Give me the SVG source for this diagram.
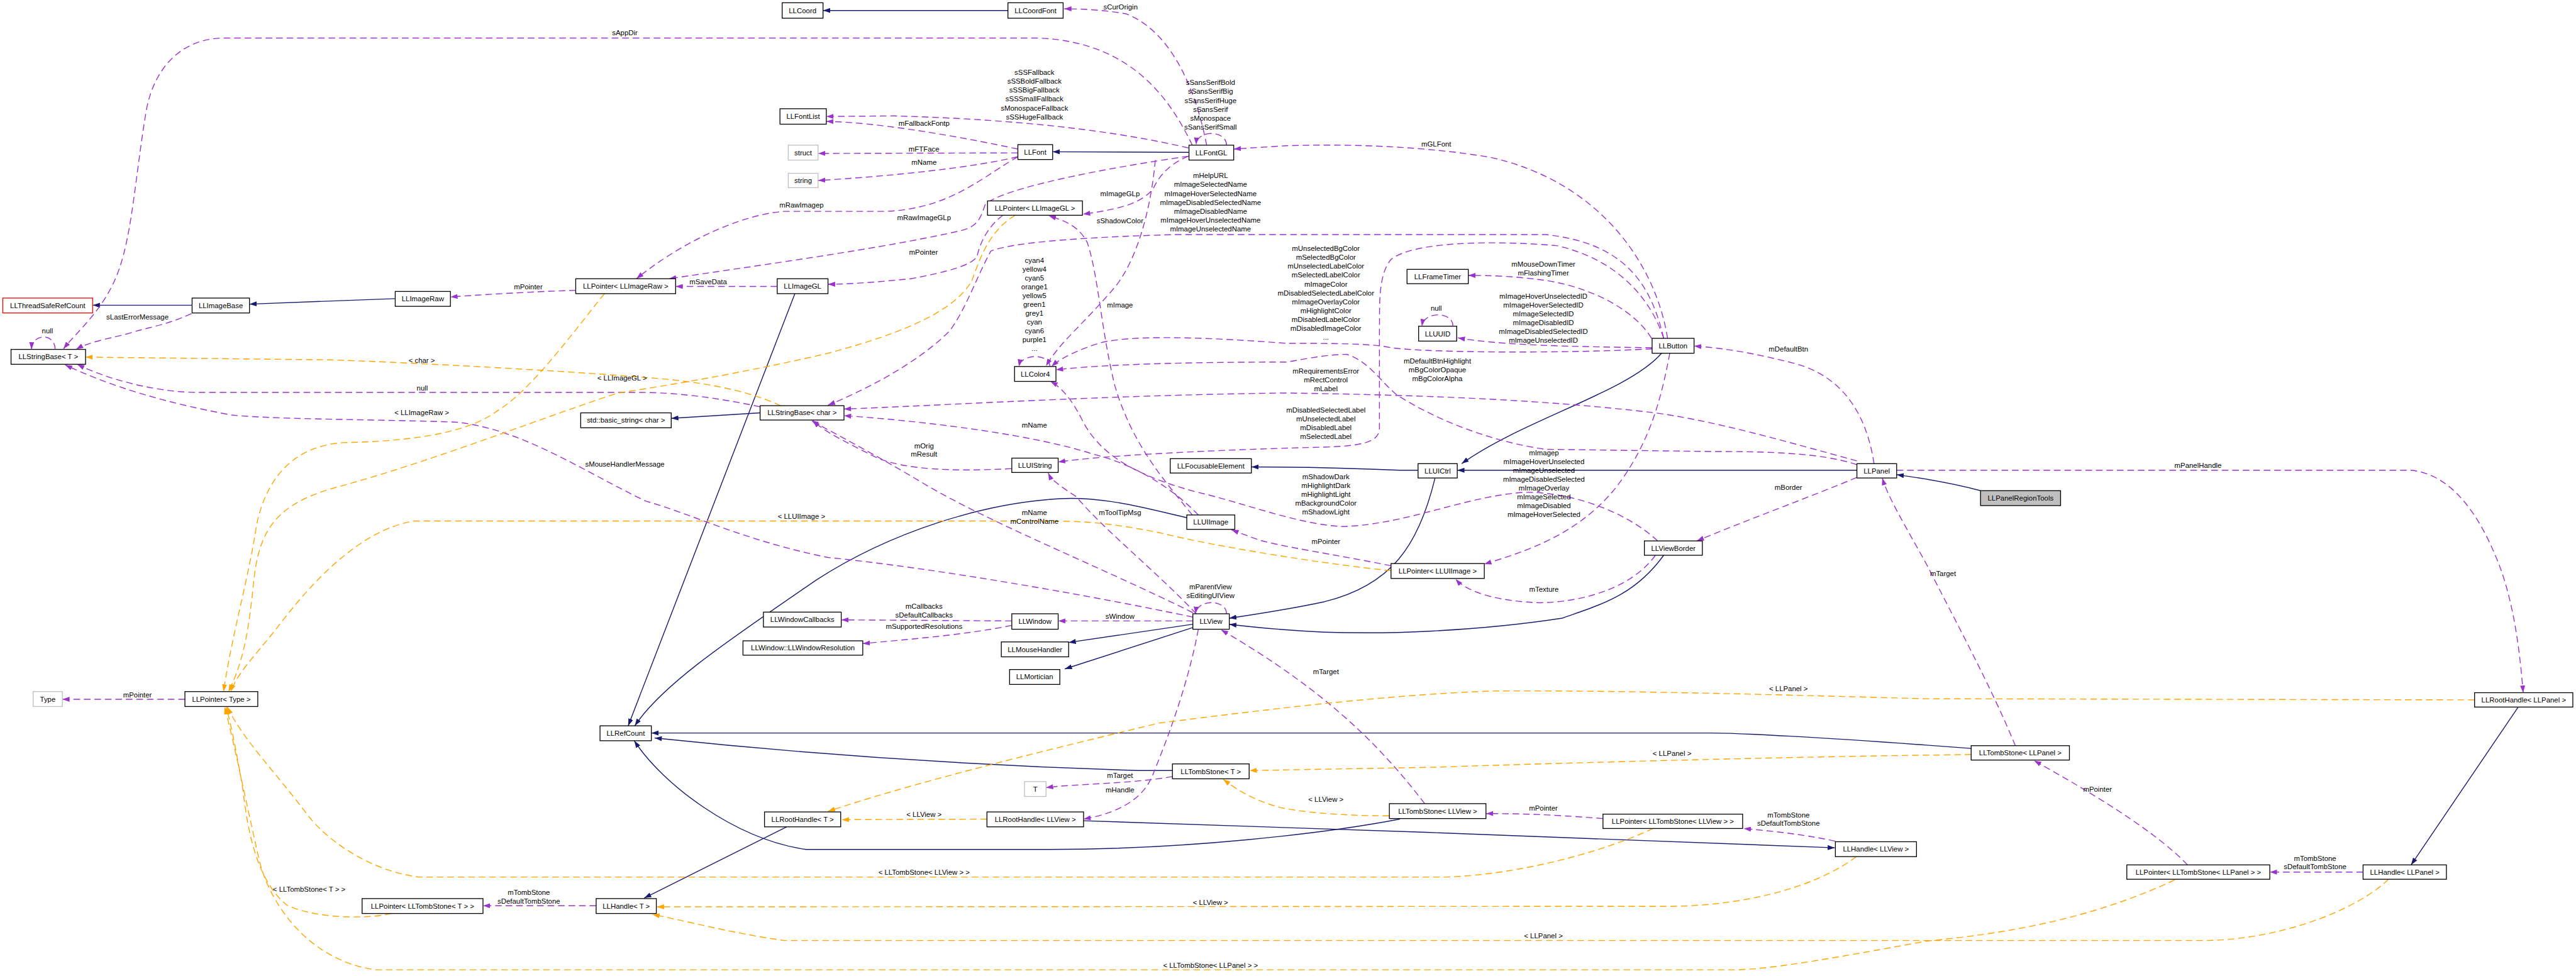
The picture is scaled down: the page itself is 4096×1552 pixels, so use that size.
<svg xmlns="http://www.w3.org/2000/svg" width="4096" height="1552" viewBox="0 0 4096 1552">
<style>
.n rect{fill:#fff;stroke:#000;stroke-width:1.5}
.n.g rect{stroke:#bfbfbf}
.n.r rect{stroke:#ff0000}
.n.f rect{fill:#bfbfbf}
text{font-family:"Liberation Sans",Arial,Helvetica,sans-serif;font-size:13px;fill:#000;text-anchor:middle}
.inh{fill:none;stroke:#191970;stroke-width:1.6}
.use{fill:none;stroke:#9a32cd;stroke-width:1.6;stroke-dasharray:12,7}
.tpl{fill:none;stroke:#ffa500;stroke-width:1.6;stroke-dasharray:12,7}
.inh{marker-end:url(#ab)}
.use{marker-end:url(#ap)}
.tpl{marker-end:url(#ao)}
</style>
<defs>
<marker id="ab" viewBox="0 0 13 9" refX="13" refY="4.5" markerWidth="13" markerHeight="9" orient="auto" markerUnits="userSpaceOnUse"><path d="M0,0L13,4.5L0,9z" fill="#191970"/></marker>
<marker id="ap" viewBox="0 0 13 9" refX="13" refY="4.5" markerWidth="13" markerHeight="9" orient="auto" markerUnits="userSpaceOnUse"><path d="M0,0L13,4.5L0,9z" fill="#9a32cd"/></marker>
<marker id="ao" viewBox="0 0 13 9" refX="13" refY="4.5" markerWidth="13" markerHeight="9" orient="auto" markerUnits="userSpaceOnUse"><path d="M0,0L13,4.5L0,9z" fill="#ffa500"/></marker>
</defs>
<rect width="4096" height="1552" fill="#fff"/>
<g transform="scale(0.8777)">
<g id="edges">
<path class="inh" d="M1826,19 L1491,19"/>
<path class="inh" d="M348,553 L168,553"/>
<path class="inh" d="M716,541 L452,551"/>
<path class="inh" d="M2154,276 L1907,275"/>
<path class="inh" d="M1440,532 L1138,1315"/>
<path class="inh" d="M2150,938 C2080,922 1990,895 1900,905 C1780,915 1620,960 1480,1050 C1320,1160 1200,1240 1150,1315"/>
<path class="inh" d="M1377,748 L1216,758"/>
<path class="inh" d="M3010,640 C2950,710 2760,760 2648,840"/>
<path class="inh" d="M3364,852 L2640,852"/>
<path class="inh" d="M3588,889 C3540,876 3480,866 3436,860"/>
<path class="inh" d="M2569,852 L2536,852 C2450,848 2350,846 2267,846"/>
<path class="inh" d="M2600,865 C2570,990 2520,1060 2400,1090 C2330,1105 2280,1112 2227,1120"/>
<path class="inh" d="M3014,1006 C2960,1080 2900,1095 2830,1120 C2700,1140 2500,1155 2330,1141 C2290,1138 2260,1135 2227,1131"/>
<path class="inh" d="M2161,1131 L1936,1164"/>
<path class="inh" d="M2161,1137 L1929,1212"/>
<path class="inh" d="M2124,1396 L2063,1396 C1800,1388 1500,1370 1186,1337"/>
<path class="inh" d="M1963,1487 C2400,1500 2900,1520 3324,1536"/>
<path class="inh" d="M1425,1498 L1167,1627"/>
<path class="inh" d="M2536,1484 C2400,1510 2150,1539 1900,1539 L1460,1539 C1330,1520 1200,1420 1149,1342"/>
<path class="inh" d="M3571,1356 L3490,1350 C3300,1336 3150,1328 3100,1328 L1180,1328"/>
<path class="inh" d="M4562,1281 L4368,1567"/>

<path class="use" d="M2186,263 C2170,180 2130,60 2040,25 C2000,18 1960,16 1928,16"/>
<path class="use" d="M2160,263 C2120,180 2050,75 1880,69 L400,69 C330,72 280,120 265,200 C245,320 240,420 215,490 C190,560 140,600 115,632"/>
<path class="use" d="M100,633 C100,603 58,603 57,633"/>
<path class="use" d="M347,568 C300,590 270,592 230,605 C190,615 160,620 138,633"/>
<path class="use" d="M1377,737 C1320,725 1240,711 1160,711 L360,711 C290,711 200,690 140,660"/>
<path class="use" d="M2161,1118 C1980,1080 1700,1030 1500,1010 C1350,980 1250,930 1170,908 C1050,850 950,780 830,765 C700,760 500,760 420,752 C300,730 200,700 118,661"/>
<path class="use" d="M1043,526 C980,528 900,532 816,538"/>
<path class="use" d="M1408,519 L1224,519"/>
<path class="use" d="M1844,284 C1780,320 1720,380 1600,383 L1420,383 C1330,390 1220,450 1153,505"/>
<path class="use" d="M2153,283 C2000,305 1820,340 1785,370 C1775,400 1770,410 1740,418 C1600,450 1380,480 1212,505"/>
<path class="use" d="M1844,270 C1750,250 1600,222 1497,220"/>
<path class="use" d="M2153,268 C1990,230 1800,215 1620,210 L1497,211"/>
<path class="use" d="M1844,277 L1482,278"/>
<path class="use" d="M1844,284 C1750,306 1600,320 1482,327"/>
<path class="use" d="M2222,263 C2222,235 2168,235 2167,262"/>
<path class="use" d="M3021,613 C3000,480 2900,330 2700,285 C2550,260 2400,262 2330,264 L2235,270"/>
<path class="use" d="M2153,283 C2110,300 2095,330 2090,340 C2070,370 2020,380 1962,388"/>
<path class="use" d="M2093,290 C2085,380 2060,470 2020,520 C1960,590 1920,620 1895,663"/>
<path class="use" d="M3014,613 C2990,510 2940,440 2800,425 L2130,425 C1950,430 1830,440 1795,455 C1770,500 1750,560 1720,600 C1660,660 1560,710 1500,734"/>
<path class="use" d="M1817,390 C1790,410 1775,440 1770,465 C1760,480 1720,492 1650,505 C1580,512 1530,515 1500,515"/>
<path class="use" d="M2160,933 C2100,860 2050,800 2020,700 C1995,600 1990,500 1970,440 C1955,410 1930,400 1900,391"/>
<path class="use" d="M1902,664 C1902,640 1850,640 1846,664"/>
<path class="use" d="M2993,632 C2850,640 2600,640 2520,630 C2490,622 2400,622 2330,622 C2200,612 2050,605 1990,622 C1950,635 1920,650 1905,664"/>
<path class="use" d="M3364,842 C3300,820 3200,818 3100,818 L2800,814 C2700,800 2600,760 2530,715 C2500,690 2480,655 2440,642 C2400,642 2340,655 2330,656 C2150,656 2000,660 1913,670"/>
<path class="use" d="M3003,980 C2950,930 2850,890 2760,892 C2650,900 2550,950 2432,954 C2350,950 2250,910 2170,892 C2050,860 1990,820 1960,760 C1940,720 1920,700 1903,691"/>
<path class="use" d="M2992,613 C2960,560 2880,520 2800,508 C2740,500 2700,499 2660,499"/>
<path class="use" d="M2993,630 C2850,628 2720,626 2641,612"/>
<path class="use" d="M2632,591 C2634,565 2580,562 2576,591"/>
<path class="use" d="M3014,613 C2990,540 2930,470 2820,445 C2700,435 2560,438 2520,470 C2495,500 2500,560 2499,600 L2499,780 C2495,800 2470,808 2400,810 C2200,815 2000,825 1917,837"/>
<path class="use" d="M3395,840 C3380,740 3330,680 3253,659 C3180,640 3120,630 3069,627"/>
<path class="use" d="M3364,865 C3280,900 3170,940 3074,980"/>
<path class="use" d="M3364,835 C3250,804 3100,760 2990,747 C2800,725 2600,716 2330,712 C2000,716 1700,735 1529,741"/>
<path class="use" d="M3025,640 C3010,720 2990,800 2930,880 C2860,970 2760,1000 2689,1022"/>
<path class="use" d="M2999,1006 C2960,1060 2880,1090 2790,1092 C2720,1090 2660,1075 2637,1049"/>
<path class="use" d="M2520,1025 C2420,1005 2320,990 2280,978 L2231,960"/>
<path class="use" d="M2171,933 C2120,880 2050,840 1981,823 C1880,790 1700,765 1529,753"/>
<path class="use" d="M1833,849 C1720,855 1640,850 1590,830 C1530,800 1490,780 1473,762"/>
<path class="use" d="M2161,1110 C2000,1030 1800,950 1680,880 C1580,820 1520,790 1470,762"/>
<path class="use" d="M2167,1112 C2100,1040 2000,960 1950,900 C1920,880 1905,870 1899,857"/>
<path class="use" d="M2222,1112 C2222,1085 2168,1085 2166,1112"/>
<path class="use" d="M2161,1125 L1917,1125"/>
<path class="use" d="M1833,1125 L1524,1123"/>
<path class="use" d="M1833,1133 C1750,1150 1650,1158 1563,1166"/>
<path class="use" d="M2581,1456 C2500,1350 2400,1250 2212,1141"/>
<path class="use" d="M2171,1140 C2150,1250 2110,1350 2090,1400 C2075,1440 2040,1470 1963,1484"/>
<path class="use" d="M2124,1407 C2050,1420 1950,1420 1895,1427"/>
<path class="use" d="M1080,1641 L875,1641"/>
<path class="use" d="M335,1267 L113,1267"/>
<path class="use" d="M2904,1483 C2800,1475 2750,1474 2692,1474"/>
<path class="use" d="M3325,1524 C3260,1510 3200,1505 3159,1501"/>
<path class="use" d="M3436,852 L4368,852 C4450,860 4500,950 4530,1030 C4555,1100 4565,1180 4571,1255"/>
<path class="use" d="M3651,1351 C3610,1250 3540,1120 3490,1022 C3450,950 3420,900 3410,866"/>
<path class="use" d="M3963,1567 C3900,1500 3760,1420 3685,1378"/>
<path class="use" d="M4281,1580 L4112,1580"/>

<path class="tpl" d="M1414,735 C1350,705 1260,690 1170,684 C1000,670 700,655 600,652 L155,647"/>
<path class="tpl" d="M1095,532 C1040,600 960,710 900,745 C840,790 720,800 620,802 C520,810 480,880 465,950 C450,1050 420,1150 405,1253"/>
<path class="tpl" d="M1839,390 C1790,420 1775,470 1760,510 C1730,560 1650,600 1500,640 C1350,675 1200,700 1120,712 C1000,750 800,830 620,880 C500,910 470,960 460,1050 C450,1150 440,1200 414,1253"/>
<path class="tpl" d="M2520,1034 C2400,1022 2200,990 2100,965 C2000,945 1950,944 1900,944 L750,944 C650,960 560,1060 500,1140 C460,1190 430,1220 418,1253"/>
<path class="tpl" d="M709,1655 C650,1668 560,1660 520,1640 C470,1600 450,1520 440,1430 C430,1370 420,1320 410,1281"/>
<path class="tpl" d="M2995,1501 C2900,1545 2750,1585 2618,1589 L760,1589 C680,1580 600,1530 560,1480 C500,1400 440,1340 412,1281"/>
<path class="tpl" d="M3940,1594 C3800,1660 3650,1690 3490,1705 C3300,1740 3200,1757 3140,1757 L680,1757 C560,1740 490,1640 470,1560 C445,1450 425,1350 407,1281"/>
<path class="tpl" d="M3363,1552 C3300,1600 3180,1640 3029,1642 L1190,1643"/>
<path class="tpl" d="M4327,1593 C4280,1640 4150,1700 4000,1704 L1421,1704 C1320,1690 1230,1665 1182,1657"/>
<path class="tpl" d="M4483,1268 L3490,1266 C3200,1258 2900,1250 2700,1252 C2500,1260 2300,1285 2100,1310 C1850,1370 1650,1420 1500,1470"/>
<path class="tpl" d="M1788,1484 L1525,1485"/>
<path class="tpl" d="M3571,1367 C3300,1370 2900,1380 2600,1390 L2264,1396"/>
<path class="tpl" d="M2517,1478 C2420,1478 2350,1470 2320,1463 C2270,1450 2240,1430 2216,1412"/>
</g>
<g id="edge-labels">
<text x="2030" y="17">sCurOrigin</text>
<text x="1132" y="64">sAppDir</text>
<text x="1874" y="136">sSSFallback</text>
<text x="1874" y="152">sSSBoldFallback</text>
<text x="1874" y="168">sSSBigFallback</text>
<text x="1874" y="184">sSSSmallFallback</text>
<text x="1874" y="200">sMonospaceFallback</text>
<text x="1874" y="216">sSSHugeFallback</text>
<text x="2193" y="154">sSansSerifBold</text>
<text x="2193" y="170">sSansSerifBig</text>
<text x="2193" y="187">sSansSerifHuge</text>
<text x="2193" y="203">sSansSerif</text>
<text x="2193" y="219">sMonospace</text>
<text x="2193" y="235">sSansSerifSmall</text>
<text x="1674" y="228">mFallbackFontp</text>
<text x="1674" y="275">mFTFace</text>
<text x="1674" y="299">mName</text>
<text x="2602" y="265">mGLFont</text>
<text x="2193" y="322">mHelpURL</text>
<text x="2193" y="338">mImageSelectedName</text>
<text x="2193" y="355">mImageHoverSelectedName</text>
<text x="2193" y="371">mImageDisabledSelectedName</text>
<text x="2193" y="387">mImageDisabledName</text>
<text x="2193" y="403">mImageHoverUnselectedName</text>
<text x="2193" y="419">mImageUnselectedName</text>
<text x="2029" y="355">mImageGLp</text>
<text x="2029" y="405">sShadowColor</text>
<text x="1452" y="376">mRawImagep</text>
<text x="1674" y="399">mRawImageGLp</text>
<text x="1673" y="461">mPointer</text>
<text x="1283" y="515">mSaveData</text>
<text x="957" y="524">mPointer</text>
<text x="249" y="579">sLastErrorMessage</text>
<text x="86" y="604">null</text>
<text x="2029" y="557">mImage</text>
<text x="1874" y="476">cyan4</text>
<text x="1874" y="492">yellow4</text>
<text x="1874" y="508">cyan5</text>
<text x="1874" y="524">orange1</text>
<text x="1874" y="540">yellow5</text>
<text x="1874" y="556">green1</text>
<text x="1874" y="572">grey1</text>
<text x="1874" y="588">cyan</text>
<text x="1874" y="604">cyan6</text>
<text x="1874" y="620">purple1</text>
<text x="1874" y="636">...</text>
<text x="2402" y="455">mUnselectedBgColor</text>
<text x="2402" y="471">mSelectedBgColor</text>
<text x="2402" y="487">mUnselectedLabelColor</text>
<text x="2402" y="503">mSelectedLabelColor</text>
<text x="2402" y="519">mImageColor</text>
<text x="2402" y="535">mDisabledSelectedLabelColor</text>
<text x="2402" y="551">mImageOverlayColor</text>
<text x="2402" y="567">mHighlightColor</text>
<text x="2402" y="583">mDisabledLabelColor</text>
<text x="2402" y="599">mDisabledImageColor</text>
<text x="2402" y="615">...</text>
<text x="2796" y="483">mMouseDownTimer</text>
<text x="2796" y="499">mFlashingTimer</text>
<text x="2796" y="541">mImageHoverUnselectedID</text>
<text x="2796" y="557">mImageHoverSelectedID</text>
<text x="2796" y="573">mImageSelectedID</text>
<text x="2796" y="589">mImageDisabledID</text>
<text x="2796" y="605">mImageDisabledSelectedID</text>
<text x="2796" y="621">mImageUnselectedID</text>
<text x="2602" y="563">null</text>
<text x="3240" y="637">mDefaultBtn</text>
<text x="2604" y="659">mDefaultBtnHighlight</text>
<text x="2604" y="675">mBgColorOpaque</text>
<text x="2604" y="691">mBgColorAlpha</text>
<text x="2402" y="677">mRequirementsError</text>
<text x="2402" y="693">mRectControl</text>
<text x="2402" y="709">mLabel</text>
<text x="2402" y="747">mDisabledSelectedLabel</text>
<text x="2402" y="763">mUnselectedLabel</text>
<text x="2402" y="779">mDisabledLabel</text>
<text x="2402" y="795">mSelectedLabel</text>
<text x="2797" y="825">mImagep</text>
<text x="2797" y="841">mImageHoverUnselected</text>
<text x="2797" y="857">mImageUnselected</text>
<text x="2797" y="873">mImageDisabledSelected</text>
<text x="2797" y="889">mImageOverlay</text>
<text x="2797" y="905">mImageSelected</text>
<text x="2797" y="921">mImageDisabled</text>
<text x="2797" y="937">mImageHoverSelected</text>
<text x="2402" y="868">mShadowDark</text>
<text x="2402" y="884">mHighlightDark</text>
<text x="2402" y="900">mHighlightLight</text>
<text x="2402" y="916">mBackgroundColor</text>
<text x="2402" y="932">mShadowLight</text>
<text x="3240" y="887">mBorder</text>
<text x="2402" y="985">mPointer</text>
<text x="2797" y="1072">mTexture</text>
<text x="3982" y="848">mPanelHandle</text>
<text x="3520" y="1044">mTarget</text>
<text x="764" y="657">&lt; char &gt;</text>
<text x="765" y="707">null</text>
<text x="1127" y="689">&lt; LLImageGL &gt;</text>
<text x="764" y="752">&lt; LLImageRaw &gt;</text>
<text x="1132" y="845">sMouseHandlerMessage</text>
<text x="1874" y="775">mName</text>
<text x="1674" y="812">mOrig</text>
<text x="1674" y="827">mResult</text>
<text x="1452" y="940">&lt; LLUIImage &gt;</text>
<text x="1874" y="933">mName</text>
<text x="1874" y="949">mControlName</text>
<text x="2029" y="933">mToolTipMsg</text>
<text x="2193" y="1068">mParentView</text>
<text x="2193" y="1084">sEditingUIView</text>
<text x="2029" y="1121">sWindow</text>
<text x="1674" y="1103">mCallbacks</text>
<text x="1674" y="1119">sDefaultCallbacks</text>
<text x="1674" y="1139">mSupportedResolutions</text>
<text x="2402" y="1221">mTarget</text>
<text x="3240" y="1252">&lt; LLPanel &gt;</text>
<text x="3029" y="1370">&lt; LLPanel &gt;</text>
<text x="2402" y="1453">&lt; LLView &gt;</text>
<text x="2029" y="1409">mTarget</text>
<text x="2029" y="1436">mHandle</text>
<text x="1674" y="1480">&lt; LLView &gt;</text>
<text x="2796" y="1469">mPointer</text>
<text x="3240" y="1481">mTombStone</text>
<text x="3240" y="1496">sDefaultTombStone</text>
<text x="3800" y="1434">mPointer</text>
<text x="4194" y="1560">mTombStone</text>
<text x="4194" y="1575">sDefaultTombStone</text>
<text x="249" y="1263">mPointer</text>
<text x="560" y="1616">&lt; LLTombStone&lt; T &gt; &gt;</text>
<text x="958" y="1621">mTombStone</text>
<text x="958" y="1637">sDefaultTombStone</text>
<text x="1674" y="1585">&lt; LLTombStone&lt; LLView &gt; &gt;</text>
<text x="2193" y="1639">&lt; LLView &gt;</text>
<text x="2796" y="1700">&lt; LLPanel &gt;</text>
<text x="2193" y="1753">&lt; LLTombStone&lt; LLPanel &gt; &gt;</text>
</g>
<g id="n_LLPanelRegionTools" class="n f"><rect x="3588" y="889" width="145" height="27"/><text x="3660.5" y="907">LLPanelRegionTools</text></g>
<g id="n_LLPanel" class="n"><rect x="3364" y="840" width="72" height="26"/><text x="3400" y="857.5">LLPanel</text></g>
<g id="n_LLUICtrl" class="n"><rect x="2569" y="840" width="71" height="26"/><text x="2604.5" y="857.5">LLUICtrl</text></g>
<g id="n_LLFocusableElement" class="n"><rect x="2120" y="831" width="147" height="26"/><text x="2193.5" y="848.5">LLFocusableElement</text></g>
<g id="n_LLView" class="n"><rect x="2161" y="1112" width="66" height="28"/><text x="2194" y="1130.5">LLView</text></g>
<g id="n_LLButton" class="n"><rect x="2993" y="613" width="76" height="27"/><text x="3031" y="631">LLButton</text></g>
<g id="n_LLUUID" class="n"><rect x="2570" y="591" width="69" height="27"/><text x="2604.5" y="609">LLUUID</text></g>
<g id="n_LLFrameTimer" class="n"><rect x="2549" y="488" width="111" height="26"/><text x="2604.5" y="505.5">LLFrameTimer</text></g>
<g id="n_LLFontGL" class="n"><rect x="2154" y="263" width="81" height="27"/><text x="2194.5" y="281">LLFontGL</text></g>
<g id="n_LLFont" class="n"><rect x="1844" y="262" width="63" height="27"/><text x="1875.5" y="280">LLFont</text></g>
<g id="n_LLFontList" class="n"><rect x="1413" y="197" width="84" height="28"/><text x="1455" y="215.5">LLFontList</text></g>
<g id="n_struct" class="n g"><rect x="1428" y="263" width="54" height="27"/><text x="1455" y="281">struct</text></g>
<g id="n_string" class="n g"><rect x="1428" y="314" width="54" height="26"/><text x="1455" y="331.5">string</text></g>
<g id="n_LLCoord" class="n"><rect x="1417" y="5" width="74" height="28"/><text x="1454" y="23.5">LLCoord</text></g>
<g id="n_LLCoordFont" class="n"><rect x="1826" y="5" width="100" height="28"/><text x="1876" y="23.5">LLCoordFont</text></g>
<g id="n_LLPointer_LLImageGL" class="n"><rect x="1789" y="364" width="172" height="26"/><text x="1875" y="381.5">LLPointer&lt; LLImageGL &gt;</text></g>
<g id="n_LLImageGL" class="n"><rect x="1408" y="505" width="92" height="27"/><text x="1454" y="523">LLImageGL</text></g>
<g id="n_LLPointer_LLImageRaw" class="n"><rect x="1043" y="505" width="181" height="27"/><text x="1133.5" y="523">LLPointer&lt; LLImageRaw &gt;</text></g>
<g id="n_LLImageRaw" class="n"><rect x="716" y="528" width="100" height="27"/><text x="766" y="546">LLImageRaw</text></g>
<g id="n_LLImageBase" class="n"><rect x="348" y="540" width="104" height="27"/><text x="400" y="558">LLImageBase</text></g>
<g id="n_LLThreadSafeRefCount" class="n r"><rect x="5" y="540" width="163" height="27"/><text x="86.5" y="558">LLThreadSafeRefCount</text></g>
<g id="n_LLStringBase_T" class="n"><rect x="20" y="633" width="135" height="27"/><text x="87.5" y="651">LLStringBase&lt; T &gt;</text></g>
<g id="n_LLStringBase_char" class="n"><rect x="1377" y="735" width="152" height="26"/><text x="1453" y="752.5">LLStringBase&lt; char &gt;</text></g>
<g id="n_std_basic_string" class="n"><rect x="1052" y="748" width="164" height="27"/><text x="1134" y="766">std::basic_string&lt; char &gt;</text></g>
<g id="n_LLColor4" class="n"><rect x="1838" y="664" width="75" height="27"/><text x="1875.5" y="682">LLColor4</text></g>
<g id="n_LLUIString" class="n"><rect x="1833" y="830" width="84" height="26"/><text x="1875" y="847.5">LLUIString</text></g>
<g id="n_LLUIImage" class="n"><rect x="2150" y="933" width="87" height="26"/><text x="2193.5" y="950.5">LLUIImage</text></g>
<g id="n_LLPointer_LLUIImage" class="n"><rect x="2520" y="1021" width="169" height="27"/><text x="2604.5" y="1039">LLPointer&lt; LLUIImage &gt;</text></g>
<g id="n_LLViewBorder" class="n"><rect x="2979" y="980" width="105" height="26"/><text x="3031.5" y="997.5">LLViewBorder</text></g>
<g id="n_LLWindow" class="n"><rect x="1833" y="1112" width="84" height="28"/><text x="1875" y="1130.5">LLWindow</text></g>
<g id="n_LLWindowCallbacks" class="n"><rect x="1383" y="1109" width="141" height="27"/><text x="1453.5" y="1127">LLWindowCallbacks</text></g>
<g id="n_LLWindowResolution" class="n"><rect x="1346" y="1161" width="217" height="26"/><text x="1454.5" y="1178.5">LLWindow::LLWindowResolution</text></g>
<g id="n_LLMouseHandler" class="n"><rect x="1814" y="1163" width="122" height="27"/><text x="1875" y="1181">LLMouseHandler</text></g>
<g id="n_LLMortician" class="n"><rect x="1829" y="1213" width="91" height="27"/><text x="1874.5" y="1231">LLMortician</text></g>
<g id="n_LLRefCount" class="n"><rect x="1087" y="1315" width="93" height="27"/><text x="1133.5" y="1333">LLRefCount</text></g>
<g id="n_LLPointer_Type" class="n"><rect x="335" y="1253" width="132" height="27"/><text x="401" y="1271">LLPointer&lt; Type &gt;</text></g>
<g id="n_Type" class="n g"><rect x="60" y="1253" width="53" height="27"/><text x="86.5" y="1271">Type</text></g>
<g id="n_LLTombStone_T" class="n"><rect x="2124" y="1384" width="139" height="27"/><text x="2193.5" y="1402">LLTombStone&lt; T &gt;</text></g>
<g id="n_T" class="n g"><rect x="1856" y="1416" width="39" height="27"/><text x="1875.5" y="1434">T</text></g>
<g id="n_LLRootHandle_T" class="n"><rect x="1385" y="1471" width="138" height="27"/><text x="1454" y="1489">LLRootHandle&lt; T &gt;</text></g>
<g id="n_LLRootHandle_LLView" class="n"><rect x="1788" y="1471" width="175" height="27"/><text x="1875.5" y="1489">LLRootHandle&lt; LLView &gt;</text></g>
<g id="n_LLHandle_T" class="n"><rect x="1080" y="1628" width="109" height="27"/><text x="1134.5" y="1646">LLHandle&lt; T &gt;</text></g>
<g id="n_LLPointer_LLTombStone_T" class="n"><rect x="656" y="1628" width="219" height="27"/><text x="765.5" y="1646">LLPointer&lt; LLTombStone&lt; T &gt; &gt;</text></g>
<g id="n_LLTombStone_LLView" class="n"><rect x="2517" y="1456" width="175" height="27"/><text x="2604.5" y="1474">LLTombStone&lt; LLView &gt;</text></g>
<g id="n_LLPointer_LLTombStone_LLView" class="n"><rect x="2904" y="1475" width="253" height="26"/><text x="3030.5" y="1492.5">LLPointer&lt; LLTombStone&lt; LLView &gt; &gt;</text></g>
<g id="n_LLHandle_LLView" class="n"><rect x="3325" y="1525" width="147" height="27"/><text x="3398.5" y="1543">LLHandle&lt; LLView &gt;</text></g>
<g id="n_LLTombStone_LLPanel" class="n"><rect x="3571" y="1351" width="178" height="26"/><text x="3660" y="1368.5">LLTombStone&lt; LLPanel &gt;</text></g>
<g id="n_LLRootHandle_LLPanel" class="n"><rect x="4483" y="1255" width="178" height="26"/><text x="4572" y="1272.5">LLRootHandle&lt; LLPanel &gt;</text></g>
<g id="n_LLPointer_LLTombStone_LLPanel" class="n"><rect x="3853" y="1567" width="259" height="26"/><text x="3982.5" y="1584.5">LLPointer&lt; LLTombStone&lt; LLPanel &gt; &gt;</text></g>
<g id="n_LLHandle_LLPanel" class="n"><rect x="4281" y="1567" width="151" height="26"/><text x="4356.5" y="1584.5">LLHandle&lt; LLPanel &gt;</text></g>
</g>
</svg>
